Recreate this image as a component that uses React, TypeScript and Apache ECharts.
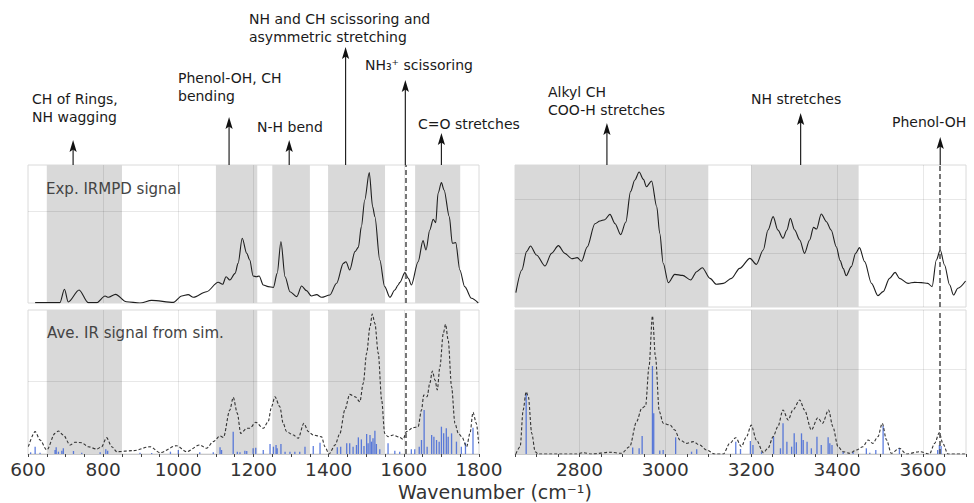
import React, { useEffect, useRef } from 'react';
import * as echarts from 'echarts';

// ---------- data ----------
const expLeft: [number, number][] = [
  [619, 0.004], [685, 0.004], [697, 0.149], [707, 0.011], [736, 0.141], [760, 0.004], [783, 0.004],
  [805, 0.076], [814, 0.062], [833, 0.094], [862, 0.014], [898, 0], [929, 0.029], [987, 0.007],
  [1009, 0.076], [1026, 0.091], [1040, 0.062], [1075, 0.123], [1106, 0.225], [1118, 0.203],
  [1127, 0.286], [1137, 0.25], [1151, 0.322], [1159, 0.431], [1170, 0.703], [1182, 0.54],
  [1190, 0.467], [1199, 0.293], [1208, 0.286], [1215, 0.293], [1226, 0.196], [1239, 0.178],
  [1253, 0.17], [1263, 0.322], [1273, 0.667], [1284, 0.286], [1297, 0.123], [1315, 0.069],
  [1328, 0.185], [1341, 0.134], [1354, 0.076], [1368, 0.091], [1381, 0.062], [1403, 0.087],
  [1421, 0.214], [1439, 0.431], [1446, 0.449], [1456, 0.359], [1470, 0.558], [1479, 0.605],
  [1487, 0.83], [1496, 1.12], [1508, 1.417], [1517, 1.047], [1523, 0.938], [1536, 0.467],
  [1549, 0.178], [1563, 0.062], [1576, 0.141], [1585, 0.196], [1589, 0.221], [1603, 0.33],
  [1612, 0.268], [1620, 0.196], [1638, 0.449], [1651, 0.678], [1659, 0.576], [1669, 0.793],
  [1678, 0.909], [1685, 0.873], [1691, 1.192], [1700, 1.308], [1707, 1.228], [1721, 0.938],
  [1729, 0.649], [1738, 0.656], [1749, 0.359], [1762, 0.178], [1780, 0.051], [1798, 0],
];

const simLeft: [number, number][] = [
  [601, 0.1], [619, 0.306], [632, 0.192], [650, 0.055], [672, 0.283], [681, 0.315], [694, 0.26],
  [712, 0.123], [725, 0.16], [743, 0.155], [760, 0.1], [783, 0.068], [796, 0.1], [809, 0.224],
  [823, 0.1], [836, 0.032], [880, 0.046], [925, 0.1], [951, 0.018], [995, 0.114], [1022, 0.032],
  [1057, 0.123], [1075, 0.078], [1093, 0.169], [1111, 0.247], [1120, 0.228], [1137, 0.603],
  [1146, 0.776], [1157, 0.557], [1166, 0.283], [1182, 0.352], [1190, 0.352], [1206, 0.434],
  [1226, 0.352], [1239, 0.443], [1248, 0.648], [1257, 0.785], [1270, 0.648], [1279, 0.42],
  [1288, 0.306], [1306, 0.26], [1319, 0.215], [1334, 0.42], [1346, 0.306], [1359, 0.26],
  [1381, 0.237], [1390, 0.1], [1401, 0], [1417, 0.123], [1430, 0.283], [1443, 0.603],
  [1456, 0.817], [1470, 0.785], [1483, 0.716], [1492, 0.968], [1501, 1.379], [1510, 1.744],
  [1516, 1.918], [1523, 1.79], [1532, 1.379], [1541, 0.74], [1549, 0.283], [1558, 0.237],
  [1572, 0.26], [1589, 0.228], [1598, 0.201], [1607, 0.306], [1625, 0.361], [1638, 0.374],
  [1647, 0.603], [1653, 0.808], [1662, 0.785], [1669, 0.968], [1676, 1.137], [1683, 1.014],
  [1689, 0.877], [1696, 1.196], [1705, 1.653], [1711, 1.776], [1718, 1.562], [1727, 0.922],
  [1736, 0.42], [1745, 0.283], [1754, 0.237], [1767, 0.1], [1776, 0.283], [1784, 0.571],
  [1793, 0.42], [1799, 0.146],
];

const sticksLeft: [number, number][] = [
  [607, 0.023], [619, 0.1], [632, 0.018], [672, 0.055], [675, 0.091], [681, 0.032], [690, 0.046],
  [694, 0.078], [721, 0.041], [743, 0.018], [792, 0.023], [807, 0.064], [812, 0.046], [898, 0.018],
  [929, 0.014], [979, 0.032], [1000, 0.055], [1057, 0.023], [1093, 0.023], [1111, 0.091],
  [1115, 0.055], [1146, 0.306], [1157, 0.032], [1164, 0.023], [1177, 0.046], [1182, 0.041],
  [1199, 0.078], [1206, 0.087], [1226, 0.055], [1244, 0.137], [1253, 0.1], [1260, 0.123],
  [1263, 0.078], [1273, 0.137], [1284, 0.032], [1297, 0.032], [1310, 0.032], [1323, 0.032],
  [1337, 0.1], [1359, 0.11], [1377, 0.155], [1423, 0.091], [1432, 0.1], [1448, 0.146],
  [1456, 0.146], [1465, 0.1], [1474, 0.123], [1479, 0.228], [1487, 0.2], [1494, 0.11],
  [1501, 0.274], [1505, 0.146], [1510, 0.26], [1514, 0.169], [1518, 0.215], [1523, 0.32],
  [1527, 0.137], [1536, 0.064], [1558, 0.146], [1576, 0.046], [1589, 0.032], [1620, 0.064],
  [1629, 0.064], [1641, 0.1], [1647, 0.192], [1654, 0.603], [1662, 0.1], [1674, 0.26],
  [1680, 0.237], [1687, 0.192], [1694, 0.169], [1700, 0.374], [1706, 0.283], [1713, 0.352],
  [1718, 0.237], [1727, 0.283], [1740, 0.169], [1753, 0.1], [1764, 0.155], [1784, 0.361],
];

const expRight: [number, number][] = [
  [2652, 0.265], [2666, 0.685], [2677, 1.025], [2686, 1.13], [2700, 0.963], [2720, 0.759],
  [2735, 0.994], [2751, 1.136], [2766, 0.994], [2782, 0.895], [2795, 0.914], [2805, 0.846],
  [2818, 1.111], [2836, 1.543], [2848, 1.593], [2859, 1.617], [2871, 1.716], [2883, 1.543],
  [2896, 1.34], [2908, 1.574], [2919, 2.136], [2929, 2.352], [2939, 2.5], [2949, 2.364],
  [2956, 2.228], [2968, 2.333], [2980, 1.858], [2987, 1.364], [2995, 0.809], [3007, 0.451],
  [3022, 0.605], [3040, 0.586], [3059, 0.5], [3073, 0.654], [3086, 0.728], [3104, 0.531],
  [3119, 0.42], [3135, 0.438], [3154, 0.531], [3173, 0.716], [3197, 0.901], [3212, 0.79],
  [3228, 1.056], [3239, 1.426], [3251, 1.673], [3262, 1.426], [3274, 1.272], [3283, 1.426],
  [3291, 1.642], [3301, 1.426], [3313, 1.241], [3324, 0.994], [3336, 1.241], [3345, 1.475],
  [3352, 1.444], [3363, 1.722], [3375, 1.58], [3386, 1.426], [3398, 1.117], [3407, 0.858],
  [3414, 0.716], [3421, 0.58], [3433, 0.747], [3443, 0.994], [3452, 1.099], [3464, 0.84],
  [3480, 0.438], [3495, 0.21], [3507, 0.284], [3522, 0.531], [3535, 0.642], [3545, 0.531],
  [3565, 0.438], [3580, 0.457], [3596, 0.451], [3611, 0.438], [3621, 0.377], [3631, 0.87],
  [3640, 1.056], [3650, 0.778], [3662, 0.407], [3671, 0.222], [3681, 0.346], [3699, 0.481],
];

const simRight: [number, number][] = [
  [2652, 0], [2662, 0.086], [2669, 0.518], [2676, 0.733], [2681, 0.675], [2689, 0.243],
  [2697, 0.027], [2704, 0], [2793, 0], [2809, 0.016], [2828, 0], [2871, 0.02], [2898, 0.008],
  [2917, 0.086], [2933, 0.38], [2945, 0.537], [2954, 0.565], [2962, 1.027], [2970, 1.624],
  [2977, 1.145], [2986, 0.498], [2995, 0.361], [3011, 0.341], [3022, 0.282], [3034, 0.165],
  [3049, 0.125], [3065, 0.145], [3080, 0.106], [3096, 0.047], [3115, 0], [3135, 0], [3150, 0.125],
  [3164, 0.192], [3177, 0.086], [3189, 0.204], [3200, 0.341], [3212, 0.165], [3228, 0.016],
  [3239, 0.067], [3251, 0.204], [3262, 0.322], [3274, 0.518], [3286, 0.4], [3297, 0.518],
  [3313, 0.635], [3324, 0.518], [3340, 0.282], [3355, 0.427], [3366, 0.361], [3380, 0.518],
  [3390, 0.322], [3402, 0.086], [3414, 0.027], [3429, 0.008], [3445, 0.047], [3460, 0.086],
  [3472, 0.165], [3483, 0.125], [3495, 0.204], [3505, 0.361], [3515, 0.165], [3526, 0.008],
  [3545, 0.067], [3561, 0], [3592, 0.027], [3615, 0], [3627, 0.125], [3638, 0.251],
  [3646, 0.125], [3658, 0], [3699, 0],
];

const sticksRight: [number, number][] = [
  [2676, 0.714], [2924, 0.075], [2939, 0.067], [2946, 0.212], [2970, 1.035], [2973, 0.478],
  [2987, 0.04], [2995, 0.047], [3024, 0.196], [3061, 0.027], [3073, 0.055], [3164, 0.145],
  [3175, 0.059], [3198, 0.153], [3204, 0.106], [3224, 0.027], [3252, 0.204], [3268, 0.067],
  [3274, 0.361], [3283, 0.145], [3294, 0.086], [3300, 0.243], [3305, 0.137], [3317, 0.243],
  [3321, 0.165], [3330, 0.145], [3340, 0.067], [3353, 0.204], [3363, 0.106], [3379, 0.196],
  [3383, 0.125], [3388, 0.106], [3414, 0.027], [3437, 0.027], [3468, 0.067], [3476, 0.016],
  [3490, 0.047], [3507, 0.329], [3545, 0.067], [3634, 0.047], [3638, 0.106], [3642, 0.094],
];

const leftBands: [number, number][] = [[650, 850], [1100, 1210], [1250, 1350], [1400, 1550], [1630, 1750]];
const rightBands: [number, number][] = [[2650, 3100], [3200, 3450]];
const leftGridX = [800, 1000, 1200, 1400, 1600];
const rightGridX = [2800, 3000, 3200, 3400, 3600];
const leftMarker = 1604;
const rightMarker = 3640;

const annotations = [
  { axis: 0, wn: 720, tipY: 140, tx: 32, ty: 99, lines: ['CH of Rings,', 'NH wagging'] },
  { axis: 0, wn: 1135, tipY: 117, tx: 178, ty: 78, lines: ['Phenol-OH, CH', 'bending'] },
  { axis: 0, wn: 1295, tipY: 140, tx: 257, ty: 127, lines: ['N-H bend'] },
  { axis: 0, wn: 1445, tipY: 47, tx: 249, ty: 19, lines: ['NH and CH scissoring and', 'asymmetric stretching'] },
  { axis: 0, wn: 1604, tipY: 80, tx: 365, ty: 65, lines: ['NH\u2083\u207A scissoring'] },
  { axis: 0, wn: 1700, tipY: 133, tx: 418, ty: 124, lines: ['C=O stretches'] },
  { axis: 2, wn: 2864, tipY: 123, tx: 548, ty: 92, lines: ['Alkyl CH', 'COO-H stretches'] },
  { axis: 2, wn: 3315, tipY: 113, tx: 751, ty: 99, lines: ['NH stretches'] },
  { axis: 2, wn: 3640, tipY: 137, tx: 892, ty: 122, lines: ['Phenol-OH'] },
];

// ---------- options ----------
const FONT = 'DejaVu Sans';
const gridLine = { color: 'rgba(0,0,0,0.09)', width: 1, type: 'solid' as const };

function bandSeries(idx: number, bands: [number, number][]) {
  return {
    type: 'line', xAxisIndex: idx, yAxisIndex: idx, data: [], silent: true, z: 1,
    markArea: { silent: true, itemStyle: { color: '#d9d9d9' }, data: bands.map(b => [{ xAxis: b[0] }, { xAxis: b[1] }]) },
  };
}
function gridSeries(idx: number, xs: number[], ys: number[]) {
  return {
    type: 'line', xAxisIndex: idx, yAxisIndex: idx, data: [], silent: true, z: 2,
    markLine: {
      silent: true, symbol: ['none', 'none'], label: { show: false }, emphasis: { disabled: true },
      lineStyle: gridLine,
      data: [...xs.map(x => ({ xAxis: x })), ...ys.map(y => ({ yAxis: y }))],
    },
  };
}
function markerSeries(idx: number, wn: number) {
  return {
    type: 'line', xAxisIndex: idx, yAxisIndex: idx, data: [], silent: true, z: 5,
    markLine: {
      silent: true, symbol: ['none', 'none'], label: { show: false }, emphasis: { disabled: true },
      lineStyle: { color: '#555', width: 1.6, type: [5, 3] }, data: [{ xAxis: wn }],
    },
  };
}
function traceSeries(idx: number, data: [number, number][], dashed: boolean) {
  return {
    type: 'line', xAxisIndex: idx, yAxisIndex: idx, data, showSymbol: false, symbol: 'none',
    smooth: 0.3, smoothMonotone: 'x', silent: true, z: 4,
    lineStyle: dashed ? { color: '#333', width: 1.1, type: [3, 2] } : { color: '#1e1e1e', width: 1.1 },
  };
}
function stickSeries(idx: number, data: [number, number][]) {
  return {
    type: 'bar', xAxisIndex: idx, yAxisIndex: idx, data, barWidth: 1.3, silent: true, z: 3,
    itemStyle: { color: 'rgba(55,95,215,0.8)' },
  };
}

const labelFmt = (v: number) => (v % 200 === 0 ? String(v) : '');

function bottomAxis(idx: number, min: number, max: number) {
  return {
    type: 'value', gridIndex: idx, min, max, interval: 50,
    axisLine: { show: true, lineStyle: { color: '#c8c8c8', width: 1 } },
    axisTick: { show: true, length: 3, lineStyle: { color: '#444', width: 1 } },
    axisLabel: { show: true, formatter: labelFmt, fontSize: 18.5, fontFamily: FONT, color: '#333', margin: 6 },
    splitLine: { show: false },
  };
}
function hiddenX(idx: number, min: number, max: number) {
  return { type: 'value', gridIndex: idx, min, max, show: false, splitLine: { show: false } };
}
function yAx(idx: number, max: number) {
  return {
    type: 'value', gridIndex: idx, min: 0, max, interval: 1,
    axisLine: { show: false }, axisTick: { show: false }, axisLabel: { show: false }, splitLine: { show: false },
  };
}

const gridBase = { show: true, borderColor: '#dadada', borderWidth: 1, backgroundColor: 'transparent' };

const option: any = {
  animation: false,
  backgroundColor: '#fff',
  grid: [
    { ...gridBase, left: 28, top: 165, width: 451, height: 138 },
    { ...gridBase, left: 28, top: 310, width: 451, height: 144 },
    { ...gridBase, left: 515, top: 165, width: 451, height: 142 },
    { ...gridBase, left: 515, top: 310, width: 451, height: 144 },
  ],
  xAxis: [
    hiddenX(0, 600, 1800),
    bottomAxis(1, 600, 1800),
    hiddenX(2, 2650, 3700),
    bottomAxis(3, 2650, 3700),
  ],
  yAxis: [yAx(0, 1.5), yAx(1, 1.973), yAx(2, 2.63), yAx(3, 1.694)],
  series: [
    bandSeries(0, leftBands), bandSeries(1, leftBands), bandSeries(2, rightBands), bandSeries(3, rightBands),
    gridSeries(0, leftGridX, [1]), gridSeries(1, leftGridX, [1]),
    gridSeries(2, rightGridX, [1, 2]), gridSeries(3, rightGridX, [1]),
    stickSeries(1, sticksLeft), stickSeries(3, sticksRight),
    traceSeries(0, expLeft, false), traceSeries(1, simLeft, true),
    traceSeries(2, expRight, false), traceSeries(3, simRight, true),
    markerSeries(0, leftMarker), markerSeries(1, leftMarker),
    markerSeries(2, rightMarker), markerSeries(3, rightMarker),
  ],
};

function buildGraphic(chart: echarts.ECharts) {
  const els: any[] = [];
  const panelTop = 165;
  annotations.forEach(a => {
    const px = chart.convertToPixel({ xAxisIndex: a.axis }, a.wn) as number;
    els.push({
      type: 'line', silent: true, z: 10,
      shape: { x1: px, y1: panelTop, x2: px, y2: a.tipY + 8 },
      style: { stroke: '#222', lineWidth: 1.2 },
    });
    els.push({
      type: 'polygon', silent: true, z: 10,
      shape: { points: [[px, a.tipY], [px - 3.6, a.tipY + 12], [px, a.tipY + 9.5], [px + 3.6, a.tipY + 12]] },
      style: { fill: '#111' },
    });
    a.lines.forEach((t, i) => {
      els.push({
        type: 'text', silent: true, z: 10, x: a.tx, y: a.ty + i * 18,
        style: { text: t, fontSize: 14, fontFamily: FONT, fill: '#1a1a1a', align: 'left', verticalAlign: 'middle' },
      });
    });
  });
  els.push({
    type: 'text', silent: true, z: 10, x: 46, y: 189,
    style: { text: 'Exp. IRMPD signal', fontSize: 15, fontFamily: FONT, fill: '#444', align: 'left', verticalAlign: 'middle' },
  });
  els.push({
    type: 'text', silent: true, z: 10, x: 47, y: 333,
    style: { text: 'Ave. IR signal from sim.', fontSize: 15, fontFamily: FONT, fill: '#444', align: 'left', verticalAlign: 'middle' },
  });
  els.push({
    type: 'text', silent: true, z: 10, x: 495, y: 492,
    style: { text: 'Wavenumber (cm\u207B\u00B9)', fontSize: 19, fontFamily: FONT, fill: '#333', align: 'center', verticalAlign: 'middle' },
  });
  return els;
}

export default function App() {
  const ref = useRef<HTMLDivElement>(null);
  useEffect(() => {
    document.body.style.margin = '0';
    const chart = echarts.init(ref.current!, null, { renderer: 'svg' });
    chart.setOption(option);
    chart.setOption({ graphic: buildGraphic(chart) });
    return () => chart.dispose();
  }, []);
  return <div ref={ref} style={{ width: 974, height: 503 }} />;
}
